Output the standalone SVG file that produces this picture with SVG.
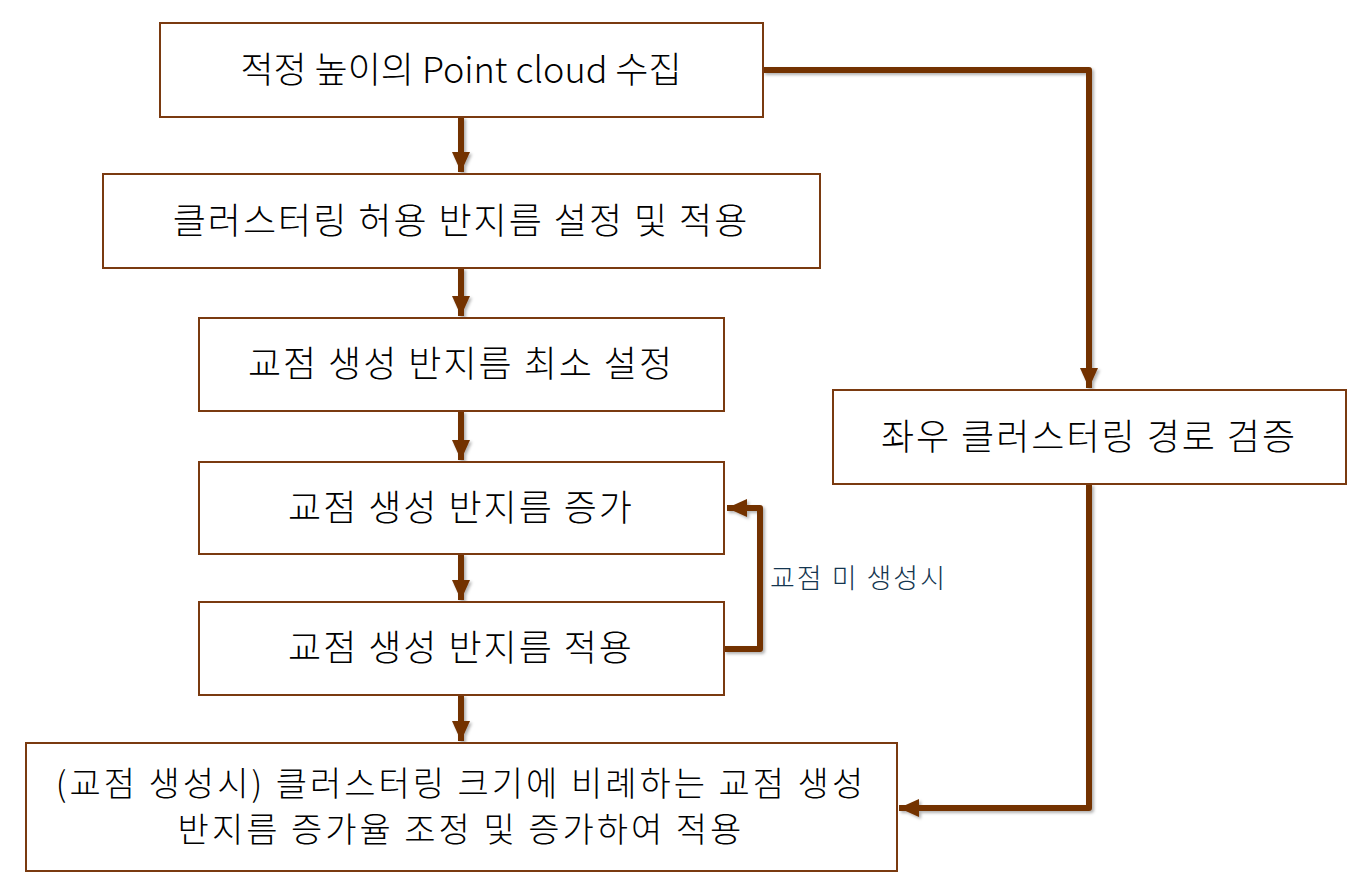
<svg xmlns="http://www.w3.org/2000/svg" width="1368" height="889" viewBox="0 0 1368 889">
<defs>
<style>
.box{fill:#fff;stroke:#7a3a10;stroke-width:2}
.t{font-family:"Noto Sans CJK KR","Malgun Gothic",sans-serif;font-size:36px;font-weight:300;fill:#000;text-anchor:middle;letter-spacing:2px}
.t6{font-size:34px;letter-spacing:3px}
.lbl{font-family:"Noto Sans CJK KR",sans-serif;font-size:27px;font-weight:300;fill:#143650;letter-spacing:2px}
.c{fill:none;stroke:#733300;stroke-width:6;stroke-linejoin:round}
</style>
<marker id="ah" markerUnits="userSpaceOnUse" markerWidth="22" markerHeight="22" viewBox="0 0 22 22" refX="20" refY="11" orient="auto">
<path d="M0,2 L20,11 L0,20 Z" fill="#733300"/>
</marker>
<filter id="sh" x="-10%" y="-10%" width="120%" height="120%">
<feDropShadow dx="2" dy="2" stdDeviation="1.5" flood-color="#000" flood-opacity="0.3"/>
</filter>
</defs>
<rect width="1368" height="889" fill="#fff"/>
<g id="connectors" filter="url(#sh)">
<path class="c" d="M461,117 V172" marker-end="url(#ah)"/>
<path class="c" d="M461,268 V316" marker-end="url(#ah)"/>
<path class="c" d="M461,411 V460" marker-end="url(#ah)"/>
<path class="c" d="M461,554 V600" marker-end="url(#ah)"/>
<path class="c" d="M461,695 V741" marker-end="url(#ah)"/>
<path class="c" d="M763,70 H1089 V388" marker-end="url(#ah)"/>
<path class="c" d="M1089,484 V808 H899" marker-end="url(#ah)"/>
<path class="c" d="M724,649 H760 V508 H727" marker-end="url(#ah)"/>
</g>
<g id="n1"><rect class="box" x="160" y="23" width="603" height="94"/><text class="t" x="461" y="83" style="letter-spacing:0">적정 높이의 Point cloud 수집</text></g>
<g id="n2"><rect class="box" x="103" y="174" width="717" height="94"/><text class="t" x="461" y="234">클러스터링 허용 반지름 설정 및 적용</text></g>
<g id="n3"><rect class="box" x="199" y="318" width="525" height="93"/><text class="t" x="461" y="377">교점 생성 반지름 최소 설정</text></g>
<g id="n4"><rect class="box" x="199" y="462" width="525" height="92"/><text class="t" x="461" y="521">교점 생성 반지름 증가</text></g>
<g id="n5"><rect class="box" x="199" y="602" width="525" height="93"/><text class="t" x="461" y="661">교점 생성 반지름 적용</text></g>
<g id="n6"><rect class="box" x="26" y="743" width="871" height="128"/><text class="t t6" x="461" y="796">(교점 생성시) 클러스터링 크기에 비례하는 교점 생성</text><text class="t t6" x="461" y="842">반지름 증가율 조정 및 증가하여 적용</text></g>
<g id="n7"><rect class="box" x="833" y="390" width="513" height="94"/><text class="t" x="1089" y="450">좌우 클러스터링 경로 검증</text></g>
<g id="label"><text class="lbl" x="770" y="588">교점 미 생성시</text></g>
</svg>
